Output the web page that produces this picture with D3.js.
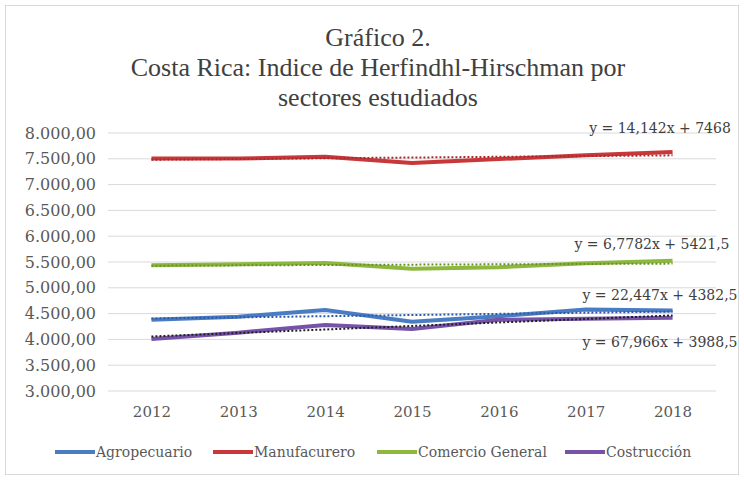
<!DOCTYPE html>
<html>
<head>
<meta charset="utf-8">
<script src="https://cdn.jsdelivr.net/npm/d3@7"></script>
<style>
  body { margin: 0; background: #fff; }
  text { font-family: "DejaVu Serif", serif; }
</style>
</head>
<body>
<script>
const years = [2012, 2013, 2014, 2015, 2016, 2017, 2018];
const agropecuario = [4380, 4440, 4570, 4340, 4450, 4580, 4560];
const manufacturero = [7505, 7505, 7540, 7420, 7495, 7570, 7630];
const comercio = [5435, 5455, 5480, 5370, 5400, 5475, 5525];
const construccion = [4010, 4130, 4280, 4200, 4380, 4400, 4420];
const seriesNames = ["Agropecuario", "Manufacurero", "Comercio General", "Costrucción"];
// trend lines: slope, intercept (x = 1..7)
const trendSlopes = [22.447, 14.142, 6.7782, 67.966];
const trendIntercepts = [4382.5, 7468, 5421.5, 3988.5];
const trendLabels = ["y = 22,447x + 4382,5", "y = 14,142x + 7468", "y = 6,7782x + 5421,5", "y = 67,966x + 3988,5"];
const yTicks = [3000, 3500, 4000, 4500, 5000, 5500, 6000, 6500, 7000, 7500, 8000];

const colors = ["#4a7cc4", "#c8383a", "#8cb840", "#7652a8"];
const trendColors = ["#2d5aa0", "#a82a2c", "#6a9028", "#222222"];
const allValues = [agropecuario, manufacturero, comercio, construccion];

const W = 744, H = 480;
const margin = {top: 133, right: 28, bottom: 89, left: 108};
const width = W - margin.left - margin.right,
    height = H - margin.top - margin.bottom;

const svg = d3.select("body").append("svg")
    .attr("width", W)
    .attr("height", H);

svg.append("rect")
    .attr("x", 5.5).attr("y", 5.5)
    .attr("width", W - 11).attr("height", H - 11)
    .attr("fill", "#fff")
    .attr("stroke", "#d9d9d9");

// title
const titleLines = ["Gráfico 2.", "Costa Rica: Indice de Herfindhl-Hirschman por", "sectores estudiados"];
svg.selectAll(".title")
    .data(titleLines)
    .enter().append("text")
    .attr("class", "title")
    .attr("x", 378)
    .attr("y", (d, i) => 46 + i * 30)
    .attr("text-anchor", "middle")
    .style("font-family", "'Liberation Serif', serif")
    .style("font-size", "26px")
    .attr("fill", "#404040")
    .text(d => d);

const g = svg.append("g")
    .attr("transform", "translate(" + margin.left + "," + margin.top + ")");

const x = d3.scalePoint()
    .domain(years)
    .range([0, width])
    .padding(0.5);
const y = d3.scaleLinear()
    .domain([3000, 8000])
    .range([height, 0]);

const fmt = d3.formatLocale({decimal: ",", thousands: ".", grouping: [3], currency: ["", ""]}).format(",.2f");

// gridlines
g.selectAll(".grid")
    .data(yTicks)
    .enter().append("line")
    .attr("x1", 0).attr("x2", width)
    .attr("y1", d => y(d)).attr("y2", d => y(d))
    .attr("stroke", "#d9d9d9")
    .attr("stroke-width", 1);

const yAxis = d3.axisLeft(y)
    .tickValues(yTicks)
    .tickFormat(fmt)
    .tickSize(0)
    .tickPadding(12);
g.append("g")
    .attr("class", "y axis")
    .call(yAxis)
    .call(a => a.select(".domain").remove())
    .selectAll("text")
    .style("font-size", "16px")
    .attr("fill", "#595959");

const xAxis = d3.axisBottom(x)
    .tickFormat(d3.format("d"))
    .tickSize(0)
    .tickPadding(15);
g.append("g")
    .attr("class", "x axis")
    .attr("transform", "translate(0," + height + ")")
    .call(xAxis)
    .call(a => a.select(".domain").remove())
    .selectAll("text")
    .style("font-size", "15px")
    .attr("fill", "#595959");

const line = d3.line()
    .x((d, i) => x(years[i]))
    .y(d => y(d));

allValues.forEach(function(vals, k) {
    g.append("path")
        .datum(vals)
        .attr("fill", "none")
        .attr("stroke", colors[k])
        .attr("stroke-width", 4)
        .attr("stroke-linejoin", "round")
        .attr("d", line);
});

allValues.forEach(function(vals, k) {
    const trend = years.map((yr, i) => trendIntercepts[k] + trendSlopes[k] * (i + 1));
    g.append("path")
        .datum(trend)
        .attr("fill", "none")
        .attr("stroke", trendColors[k])
        .attr("stroke-width", 2)
        .attr("stroke-dasharray", "2,2")
        .attr("d", line);
});

// trend equations
const labelPos = [[660, 300], [660, 133], [652, 249], [660, 347]];
trendLabels.forEach(function(t, k) {
    svg.append("text")
        .attr("x", labelPos[k][0])
        .attr("y", labelPos[k][1])
        .attr("text-anchor", "middle")
        .style("font-size", "14px")
        .attr("fill", "#404040")
        .text(t);
});

// legend
const legendX = [55, 213, 377, 565];
const legend = svg.selectAll(".legend")
    .data(seriesNames)
    .enter().append("g")
    .attr("class", "legend")
    .attr("transform", (d, i) => "translate(" + legendX[i] + ",452)");
legend.append("line")
    .attr("x1", 0).attr("x2", 40)
    .attr("stroke", (d, i) => colors[i])
    .attr("stroke-width", 4);
legend.append("text")
    .attr("x", 41)
    .attr("y", 5)
    .style("font-size", "14px")
    .attr("fill", "#595959")
    .text(d => d);
</script>
</body>
</html>
